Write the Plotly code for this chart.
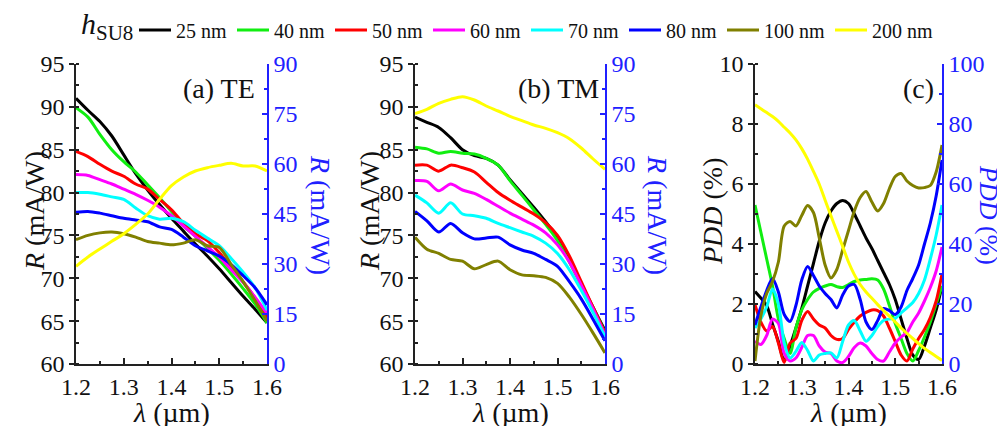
import plotly.graph_objects as go

# ---------------- data ----------------
labels = ["25 nm", "40 nm", "50 nm", "60 nm", "70 nm", "80 nm", "100 nm", "200 nm"]
colors = ["#000000", "#11ee11", "#ff0000", "#ff00ff", "#00ffff", "#0000ff", "#808000", "#ffff00"]

# wavelength grid for panels (a) and (b)
wl_ab = [1.2, 1.225, 1.25, 1.275, 1.3, 1.325, 1.35, 1.375, 1.4, 1.425, 1.45, 1.475, 1.5, 1.525, 1.55, 1.575, 1.6]

# (a) TE responsivity (mA/W); 200 nm on right axis
te_25 = [91.0, 89.6, 88.3, 86.6, 84.4, 82.2, 80.3, 78.6, 77.0, 75.5, 74.0, 72.6, 71.1, 69.5, 67.9, 66.4, 64.8]
te_40 = [89.9, 88.8, 86.8, 85.0, 83.6, 82.4, 80.9, 79.4, 77.8, 76.1, 74.9, 73.5, 72.1, 70.5, 68.8, 67.0, 64.8]
te_50 = [84.8, 84.2, 83.3, 82.5, 81.9, 81.0, 80.4, 79.2, 78.0, 76.4, 75.2, 74.4, 73.0, 71.3, 69.6, 67.7, 65.4]
te_60 = [82.1, 82.0, 81.5, 81.0, 80.4, 79.8, 79.1, 78.3, 77.3, 76.1, 74.9, 73.7, 72.5, 71.0, 69.5, 67.8, 65.9]
te_70 = [80.0, 80.0, 79.8, 79.5, 79.2, 78.2, 77.3, 76.9, 77.0, 76.6, 75.6, 74.7, 73.8, 72.3, 70.7, 68.9, 66.3]
te_80 = [77.7, 77.8, 77.6, 77.3, 77.0, 76.8, 76.6, 76.0, 75.7, 74.8, 73.8, 73.2, 72.6, 71.6, 70.3, 68.9, 66.9]
te_100 = [74.5, 75.0, 75.3, 75.4, 75.2, 74.8, 74.3, 74.1, 73.9, 74.1, 74.5, 73.8, 73.6, 71.6, 69.6, 67.4, 65.0]
te_200 = [29.3, 32.1, 34.5, 36.8, 39.1, 41.9, 45.0, 49.4, 53.5, 56.1, 57.9, 58.9, 59.6, 60.2, 59.4, 59.4, 57.9]

# (b) TM responsivity (mA/W); 200 nm on right axis
tm_25 = [88.8, 88.2, 87.6, 86.4, 85.0, 84.3, 84.0, 83.2, 81.5, 79.9, 78.3, 76.6, 74.7, 72.2, 69.3, 66.6, 63.9]
tm_40 = [85.3, 85.1, 84.6, 84.8, 84.6, 84.5, 84.0, 83.2, 81.4, 79.7, 78.0, 76.3, 74.4, 71.9, 69.2, 66.5, 63.7]
tm_50 = [83.2, 83.2, 82.5, 83.2, 82.9, 82.4, 81.2, 80.0, 79.1, 78.3, 77.5, 76.5, 75.0, 72.6, 69.6, 66.6, 63.6]
tm_60 = [81.4, 81.3, 80.2, 81.0, 80.3, 79.9, 79.2, 78.4, 77.6, 76.9, 76.2, 75.3, 73.9, 71.9, 69.2, 66.4, 63.4]
tm_70 = [79.7, 78.8, 77.6, 78.8, 77.5, 77.3, 77.0, 76.4, 75.9, 75.4, 74.9, 74.1, 72.9, 71.0, 68.6, 66.0, 63.2]
tm_80 = [77.8, 76.7, 75.4, 76.4, 75.3, 74.6, 74.7, 74.8, 73.9, 73.3, 72.9, 72.2, 71.4, 69.6, 67.6, 65.2, 62.7]
tm_100 = [74.8, 73.4, 72.9, 72.2, 72.0, 71.1, 71.6, 72.0, 71.0, 70.4, 70.3, 70.1, 69.4, 67.8, 65.8, 63.6, 61.3]
tm_200 = [75.1, 76.4, 78.2, 79.4, 80.2, 79.2, 77.4, 75.9, 74.3, 73.0, 71.7, 70.7, 69.4, 67.6, 64.8, 61.5, 58.4]

# (c) polarization dependence (%); 200 nm on right axis
wl_c = [1.2, 1.2125, 1.225, 1.2375, 1.25, 1.2625, 1.275, 1.2875, 1.3, 1.3125, 1.325, 1.3375,
        1.35, 1.3625, 1.375, 1.3875, 1.4, 1.4125, 1.425, 1.4375, 1.45, 1.4625, 1.475, 1.4875,
        1.5, 1.5125, 1.525, 1.5375, 1.55, 1.5625, 1.575, 1.5875, 1.6]
pdd_25 = [2.42, 2.2, 1.95, 1.33, 0.75, 0.1, 0.6, 1.2, 1.85, 2.6, 3.35, 4.1, 4.7, 5.1, 5.35, 5.45, 5.35,
          5.0, 4.6, 4.2, 3.85, 3.45, 3.05, 2.65, 2.15, 1.5, 0.85, 0.3, 0.15, 0.6, 1.2, 1.8, 2.6]
pdd_40 = [5.3, 4.4, 3.5, 2.6, 1.5, 0.85, 0.35, 1.2, 1.8, 2.15, 2.4, 2.52, 2.6, 2.65, 2.58, 2.55, 2.65,
          2.75, 2.8, 2.82, 2.84, 2.8, 2.5, 1.95, 1.35, 0.85, 0.35, 0.1, 0.45, 0.9, 1.4, 2.0, 2.6]
pdd_50 = [1.98, 1.4, 1.1, 1.25, 0.7, 0.05, 0.7, 0.85, 1.45, 1.75, 1.5, 1.3, 1.2, 0.95, 0.82, 0.85, 1.15,
          1.4, 1.6, 1.72, 1.8, 1.78, 1.6, 1.2, 0.75, 0.3, 0.1, 0.5, 0.85, 1.15, 1.55, 2.1, 3.0]
pdd_60 = [0.76, 0.65, 0.95, 1.5, 1.35, 0.35, 0.1, 0.2, 0.55, 0.95, 0.95, 0.6, 0.4, 0.35, 0.1, 0.05, 0.25,
          0.55, 0.7, 0.6, 0.35, 0.15, 0.1, 0.4, 0.7, 0.9, 1.05, 1.4, 1.7, 2.1, 2.55, 3.1, 3.9]
pdd_70 = [1.2, 1.5, 1.9, 2.5, 2.0, 0.7, 0.2, 0.42, 0.72, 0.45, 0.1, 0.3, 0.35, 0.37, 0.2, 0.75, 1.3,
          1.45, 1.1, 0.76, 0.95, 1.25, 1.45, 1.5, 1.52, 1.7, 1.87, 2.05, 2.35, 2.8, 3.5, 4.3, 5.3]
pdd_80 = [1.3, 1.9, 2.45, 2.85, 2.4, 1.65, 1.42, 1.95, 2.8, 3.25, 2.95, 2.6, 2.35, 2.15, 1.87, 2.3, 2.6,
          2.65, 2.15, 1.4, 1.15, 1.45, 1.85, 1.78, 1.65, 1.9, 2.45, 2.85, 3.3, 4.0, 4.7, 5.6, 6.8]
pdd_100 = [0.1, 1.6, 2.35, 2.75, 3.4, 4.6, 4.75, 4.6, 4.95, 5.28, 5.05, 4.2, 3.3, 2.87, 3.15, 3.8, 4.45,
           5.1, 5.55, 5.75, 5.4, 5.1, 5.35, 5.85, 6.25, 6.35, 6.1, 5.95, 5.87, 5.88, 5.95, 6.4, 7.3]
pdd_200 = [86.4, 85.1, 83.8, 82.5, 80.9, 78.9, 77.0, 74.7, 71.8, 68.3, 64.2, 59.9, 54.6, 49.4, 44.3, 39.2, 34.0,
           29.8, 26.5, 24.0, 21.9, 19.8, 17.8, 15.9, 14.0, 12.0, 10.2, 8.5, 6.8, 5.2, 3.8, 2.5, 1.2]

te_sets = [te_25, te_40, te_50, te_60, te_70, te_80, te_100, te_200]
tm_sets = [tm_25, tm_40, tm_50, tm_60, tm_70, tm_80, tm_100, tm_200]
pdd_sets = [pdd_25, pdd_40, pdd_50, pdd_60, pdd_70, pdd_80, pdd_100, pdd_200]

# ---------------- layout helpers ----------------
W, H = 1005, 426
FONT = "Liberation Serif, Tinos, 'Times New Roman', 'DejaVu Serif', serif"
BLUE = "#2020ff"
AX = "#222222"


def px(x):
    return x / W


def py(y):
    return 1 - y / H


fig = go.Figure()

panels = [
    ("x", "y", "y2", wl_ab, te_sets),
    ("x2", "y3", "y4", wl_ab, tm_sets),
    ("x3", "y5", "y6", wl_c, pdd_sets),
]

for pi, (xa, yl, yr, wl, sets) in enumerate(panels):
    for i, (lab, col, vals) in enumerate(zip(labels, colors, sets)):
        fig.add_trace(go.Scatter(
            x=wl, y=vals, mode="lines", name=lab,
            line=dict(color=col, width=3, shape="spline", smoothing=0.8),
            xaxis=xa, yaxis=(yr if i == len(labels) - 1 else yl),
            showlegend=(pi == 0), legendrank=i,
        ))

ydom = [py(356), py(56)]
xdoms = [[px(68), px(259)], [px(407), px(597)], [px(747), px(934)]]

tickfont = dict(family=FONT, size=24, color="#111111")
bluefont = dict(family=FONT, size=24, color=BLUE)


def xaxis(dom, anchor):
    return dict(domain=dom, anchor=anchor, range=[1.2, 1.6], dtick=0.1, tick0=1.2, tickformat=".1f",
                ticks="inside", ticklen=6, tickwidth=1.5, tickcolor=AX,
                minor=dict(ticks="inside", ticklen=3, dtick=0.05, tickcolor=AX),
                showline=True, linecolor=AX, linewidth=1.5, showgrid=False, zeroline=False,
                tickfont=tickfont, automargin=False)


def yleft(anchor, rng, dt, mdt):
    return dict(domain=ydom, anchor=anchor, range=rng, dtick=dt,
                ticks="outside", ticklen=5, tickwidth=1.5, tickcolor=AX,
                minor=dict(ticks="inside", ticklen=3, dtick=mdt, tickcolor=AX),
                showline=True, linecolor=AX, linewidth=1.5, showgrid=False, zeroline=False,
                tickfont=tickfont, automargin=False)


def yright(anchor, over, rng, dt, mdt):
    return dict(domain=ydom, anchor=anchor, overlaying=over, side="right", range=rng, dtick=dt,
                ticks="inside", ticklen=5, tickwidth=1.5, tickcolor=BLUE,
                minor=dict(ticks="inside", ticklen=3, dtick=mdt, tickcolor=BLUE),
                showline=True, linecolor=BLUE, linewidth=1.5, showgrid=False, zeroline=False,
                tickfont=bluefont, automargin=False)


fig.update_layout(
    width=W, height=H,
    margin=dict(l=0, r=0, t=0, b=0),
    paper_bgcolor="white", plot_bgcolor="white",
    font=dict(family=FONT, color="#111111"),
    xaxis=xaxis(xdoms[0], "y"),
    xaxis2=xaxis(xdoms[1], "y3"),
    xaxis3=xaxis(xdoms[2], "y5"),
    yaxis=yleft("x", [60, 95], 5, 2.5),
    yaxis2=yright("x", "y", [0, 90], 15, 7.5),
    yaxis3=yleft("x2", [60, 95], 5, 2.5),
    yaxis4=yright("x2", "y3", [0, 90], 15, 7.5),
    yaxis5=yleft("x3", [0, 10], 2, 1),
    yaxis6=yright("x3", "y5", [0, 100], 20, 10),
    showlegend=True,
    legend=dict(orientation="h", x=px(126), y=py(22), xanchor="left", yanchor="middle",
                font=dict(family=FONT, size=20, color="#111111"),
                itemwidth=32, bgcolor="rgba(0,0,0,0)", traceorder="normal"),
)

ann = []
# legend title
ann.append(dict(text="<i>h</i><sub>SU8</sub>", xref="paper", yref="paper", x=px(71), y=py(18),
                xanchor="left", yanchor="middle", showarrow=False,
                font=dict(family=FONT, size=30, color="#111111")))
# panel labels
for txt, xr in [("(a) TE", 249), ("(b) TM", 593), ("(c)", 928)]:
    ann.append(dict(text=txt, xref="paper", yref="paper", x=px(xr), y=py(81), xanchor="right",
                    yanchor="middle", showarrow=False, font=dict(family=FONT, size=28, color="#111111")))
# left y titles
for txt, xc in [("<i>R</i> (mA/W)", 26), ("<i>R</i> (mA/W)", 361), ("<i>PDD</i> (%)", 704)]:
    ann.append(dict(text=txt, xref="paper", yref="paper", x=px(xc), y=py(203), xanchor="center",
                    yanchor="middle", textangle=-90, showarrow=False,
                    font=dict(family=FONT, size=28, color="#111111")))
# right y titles (rotated clockwise)
for txt, xc, fs in [("<i>R</i> (mA/W)", 313, 28), ("<i>R</i> (mA/W)", 650, 28), ("<i>PDD</i> (%)", 981, 26)]:
    ann.append(dict(text=txt, xref="paper", yref="paper", x=px(xc), y=py(207), xanchor="center",
                    yanchor="middle", textangle=90, showarrow=False,
                    font=dict(family=FONT, size=fs, color=BLUE)))
# x titles
for dom in xdoms:
    ann.append(dict(text="<i>λ</i> (µm)", xref="paper", yref="paper", x=(dom[0] + dom[1]) / 2,
                    y=py(404), xanchor="center", yanchor="middle", showarrow=False,
                    font=dict(family=FONT, size=28, color="#111111")))
fig.update_layout(annotations=ann)

fig.write_html("out.html")
